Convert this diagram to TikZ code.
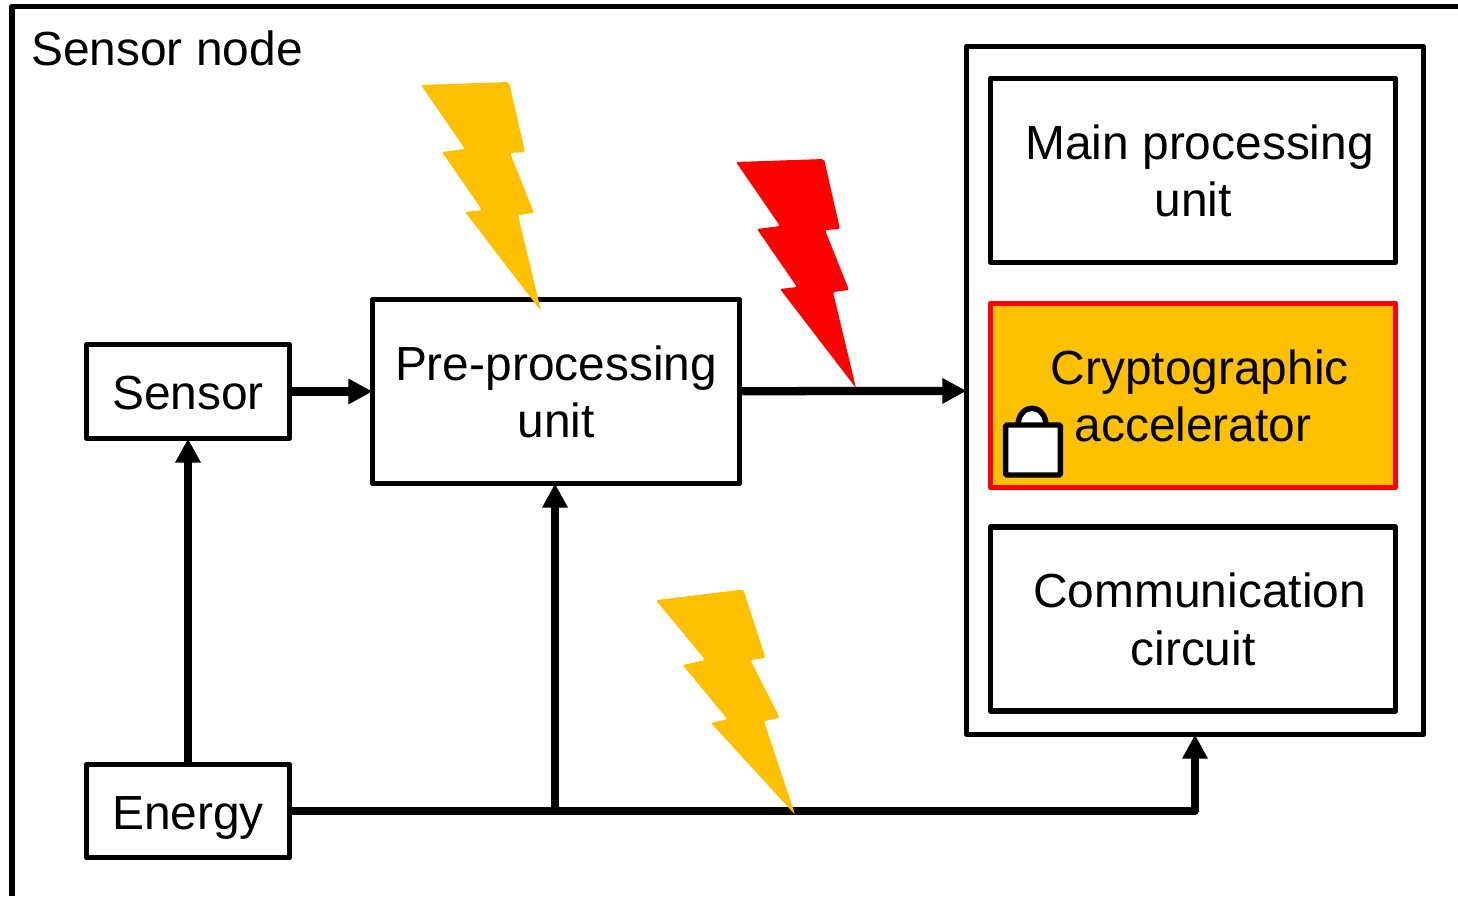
\documentclass[tikz,border=0pt]{standalone}
\usepackage{fontspec}
\setmainfont{Liberation Sans}
\usetikzlibrary{positioning,arrows.meta}

\definecolor{boltyellow}{HTML}{FFC000}

\tikzset{
    block/.style={draw=black, line width=4.1pt, line join=round, align=center, inner sep=0pt,
        font=\fontsize{35.9}{43.2}\selectfont},
    single/.style={text height=27.5pt, text depth=0pt},
    double/.style={text depth=-2.5pt},
    flow/.style={draw=black, line width=6.2pt, line join=round, shorten >=-2pt, -{Triangle[length=18pt,width=18pt]}},
    bolt/.pic={
        \path[pic actions, rounded corners=1.5pt] (-1,-1) -- (87,-4) -- (103,66) -- (88,67) -- (112,127)
            -- (96,129) -- (119,225) -- (43,126) -- (60,124) -- (20,66) -- (43,63) -- cycle;
    }
}

\begin{document}
\begin{tikzpicture}[x=0.75pt, y=-0.75pt]
    \useasboundingbox (0,0) rectangle (1458,896);

    % Outer frame
    \draw[line width=4.1pt, line join=round] (12,896) -- (12,6.5) -- (1458,6.5);
    \node[anchor=west, font=\fontsize{35.9}{43.2}\selectfont, inner sep=0pt] (title) at (31,48) {Sensor node};

    % Left blocks
    \node[block, single, minimum width=203pt*0.75, minimum height=94pt*0.75] (sensor) at (188,391.5) {Sensor};
    \node[block, single, minimum width=203pt*0.75, minimum height=93pt*0.75] (energy) at (188,811) {Energy};
    \node[block, double, minimum width=367pt*0.75, minimum height=184pt*0.75] (pre) at (556,391.5) {Pre-processing\\unit};

    % Right blocks
    \node[block, minimum width=457pt*0.75, minimum height=688pt*0.75] (system) at (1195,390.5) {};
    \node[block, double, minimum width=405pt*0.75, minimum height=184pt*0.75] (main) at (1193,170.5) {\ Main processing\\unit};
    \node[block, double, draw=red, fill=boltyellow, minimum width=405pt*0.75, minimum height=184pt*0.75] (crypto) at (1193,395.5) {\ Cryptographic\\accelerator};
    \node[block, double, minimum width=405pt*0.75, minimum height=184pt*0.75] (comm) at (1193,619) {\ Communication\\circuit};

    % Lock
    \draw[line width=4.1pt, fill=white] (1018,424) .. controls (1020,403) and (1044,403) .. (1046,424);
    \node[draw=black, fill=white, line width=4.1pt, rounded corners=1pt, minimum width=41pt, minimum height=37.5pt, inner sep=0pt] (lock) at (1033,450) {};

    % Connections
    \coordinate (tap) at (555,811);
    \draw[flow] (sensor) -- (pre);
    \draw[flow] (pre) -- (system);
    \draw[flow] (energy) -- (sensor);
    \draw[flow] (tap) -- (tap |- pre.south);
    \draw[flow] (energy.east) -| (system.south);

    % Attacks
    \pic[fill=boltyellow] at (422,86) {bolt};
    \pic[fill=red] at (737,163) {bolt};
    \pic[fill=boltyellow, rotate=5] at (657,601) {bolt};
\end{tikzpicture}
\end{document}
